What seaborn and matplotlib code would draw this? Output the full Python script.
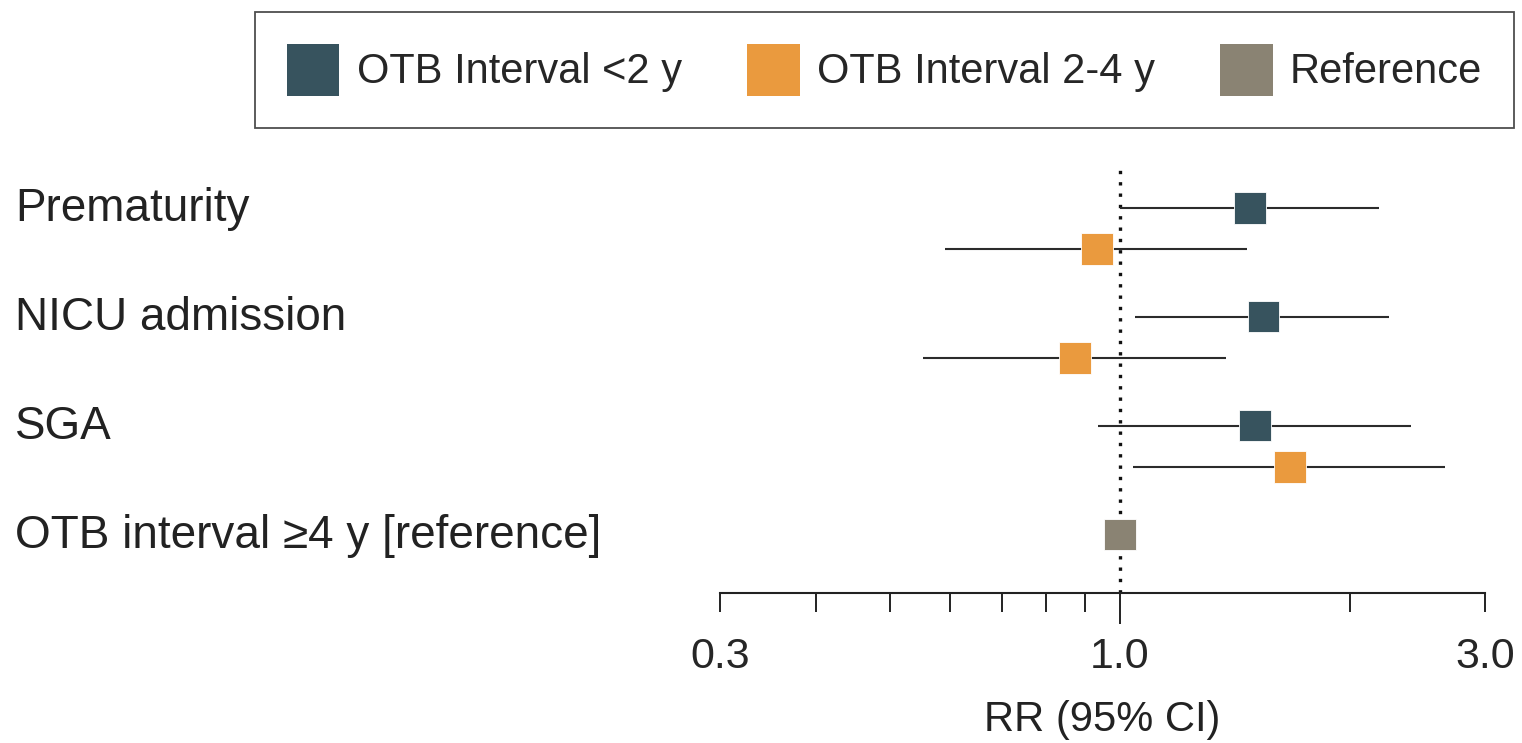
import matplotlib
matplotlib.use("Agg")
import matplotlib.pyplot as plt
import matplotlib.transforms as mtransforms
from matplotlib.patches import Patch
import seaborn as sns
import pandas as pd
import numpy as np

# outcomes (top to bottom)
outcomes = ["Prematurity", "NICU admission", "SGA", "OTB interval \u22654 y [reference]"]
series_names = ["OTB Interval <2 y", "OTB Interval 2-4 y", "Reference"]

# relative risks and 95% CI
rr_lt2 = [1.48, 1.54, 1.50]
lo_lt2 = [1.00, 1.045, 0.937]
hi_lt2 = [2.18, 2.25, 2.40]

rr_2to4 = [0.934, 0.874, 1.667]
lo_2to4 = [0.590, 0.552, 1.039]
hi_2to4 = [1.466, 1.375, 2.66]

rr_ref = [1.0]

colors = {"OTB Interval <2 y": "#37535E", "OTB Interval 2-4 y": "#EA9A3E", "Reference": "#8A8373"}
row_offset = {"OTB Interval <2 y": 0.0, "OTB Interval 2-4 y": 0.38, "Reference": 0.0}

records = []
for i in range(3):
    records.append({"outcome": i, "series": series_names[0], "rr": rr_lt2[i], "lo": lo_lt2[i], "hi": hi_lt2[i]})
    records.append({"outcome": i, "series": series_names[1], "rr": rr_2to4[i], "lo": lo_2to4[i], "hi": hi_2to4[i]})
records.append({"outcome": 3, "series": series_names[2], "rr": rr_ref[0], "lo": np.nan, "hi": np.nan})
df = pd.DataFrame(records)
df["ypos"] = df["outcome"] + df["series"].map(row_offset)

sns.set_style("white")
plt.rcParams["font.family"] = ["Liberation Sans", "DejaVu Sans"]

fig = plt.figure(figsize=(15.22, 7.43), dpi=100)
ax = fig.add_axes([720 / 1522, 150 / 743, 765 / 1522, 430 / 743])

# reference line
ax.axvline(1.0, color="#111111", linestyle=(0, (1, 2.4)), linewidth=2.4, zorder=1)

# confidence intervals
ci = df.dropna(subset=["lo"])
ax.hlines(ci["ypos"], ci["lo"], ci["hi"], color="#2b2b2b", linewidth=1.5, zorder=2)

sns.scatterplot(data=df, x="rr", y="ypos", hue="series", palette=colors, marker="s",
                s=520, linewidth=0.6, edgecolor="white", legend=False, ax=ax, zorder=3)

ax.set_xscale("log")
ax.set_xlim(0.3, 3.0)
ax.set_ylim(3.537, -0.41)
ax.set_xticks([0.3, 1.0, 3.0])
ax.set_xticklabels(["0.3", "1.0", "3.0"])
ax.set_xticks([0.4, 0.5, 0.6, 0.7, 0.8, 0.9, 2.0], minor=True)
ax.xaxis.set_minor_formatter(matplotlib.ticker.NullFormatter())
ax.tick_params(axis="x", which="both", direction="out", length=14, width=1.4,
               color="#222222", labelsize=31, pad=18, bottom=True)
ax.get_xaxis().get_major_ticks()[1].tick1line.set_markersize(22)
ax.set_yticks([])
ax.set_ylabel("")
ax.set_xlabel("RR (95% CI)", fontsize=30, labelpad=16, color="#222222")
for s in ["left", "right", "top"]:
    ax.spines[s].set_visible(False)
ax.spines["bottom"].set_linewidth(1.5)
ax.spines["bottom"].set_color("#222222")

# outcome labels at the left edge of the figure
trans = mtransforms.blended_transform_factory(fig.transFigure, ax.transData)
for i, name in enumerate(outcomes):
    fig.text(15 / 1522, i + 0.015, name, transform=trans, fontsize=33,
             ha="left", va="center", color="#222222")

handles = [Patch(facecolor=colors[n], edgecolor="none", label=n) for n in series_names]
leg = fig.legend(handles=handles, loc="upper right", bbox_to_anchor=(1514 / 1522, 1 - 12 / 743),
                 ncol=3, fontsize=30, frameon=True, fancybox=False, edgecolor="#222222",
                 handlelength=1.27, handleheight=1.55, handletextpad=0.42,
                 columnspacing=1.55, borderpad=0.76, borderaxespad=0)
leg.get_frame().set_linewidth(1.3)

fig.savefig("out.png", dpi=100, facecolor="white")
